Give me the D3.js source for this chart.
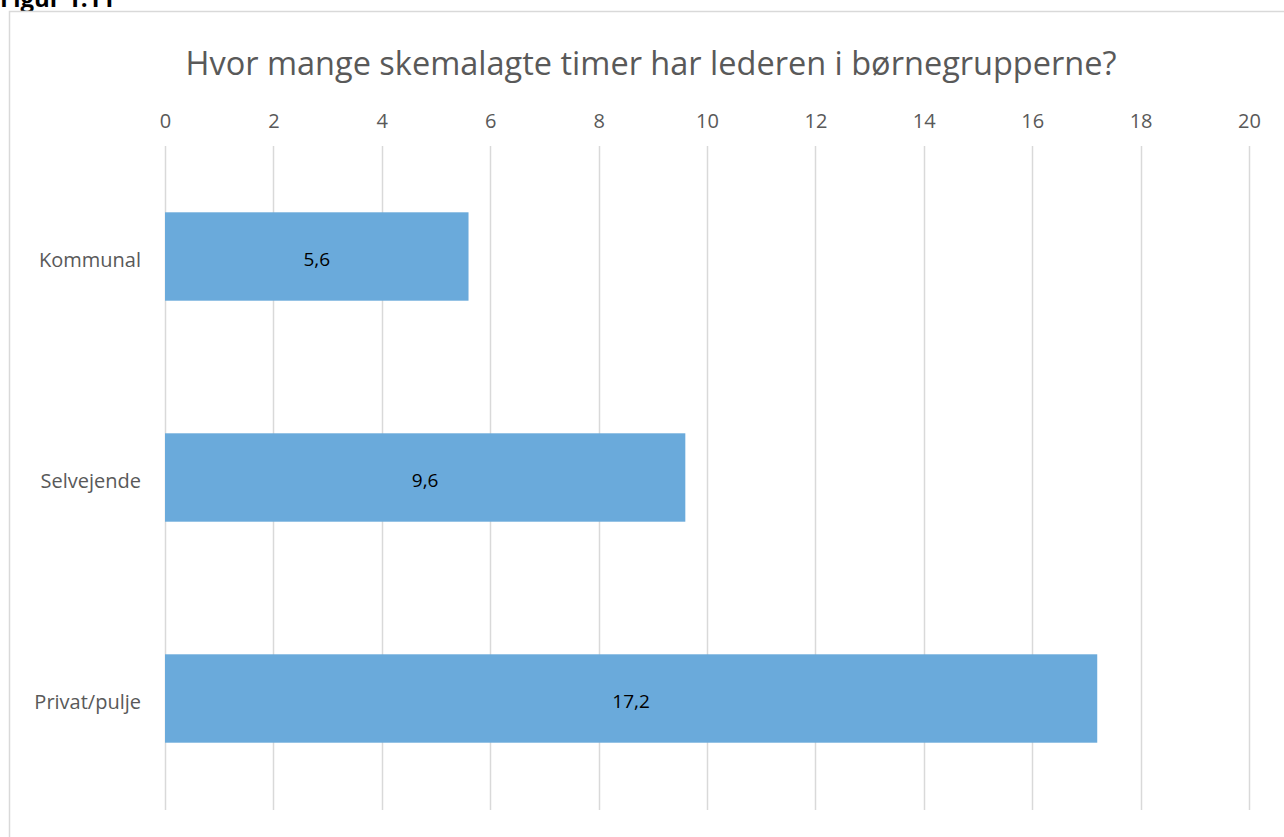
<!DOCTYPE html>
<html>
<head>
<meta charset="utf-8">
<script src="https://cdn.jsdelivr.net/npm/d3@7"></script>
<style>
  body { margin: 0; background: #fff; }
  text { font-family: "Open Sans", sans-serif; }
</style>
</head>
<body>
<script>
// data
var categories = ["Kommunal", "Selvejende", "Privat/pulje"];
var values = [5.6, 9.6, 17.2];
var valueLabels = ["5,6", "9,6", "17,2"];
var xTicks = [0, 2, 4, 6, 8, 10, 12, 14, 16, 18, 20];
var title = "Hvor mange skemalagte timer har lederen i børnegrupperne?";
var figLabel = "Figur 1.11";

var W = 1284, H = 837;

var svg = d3.select("body").append("svg")
    .attr("width", W)
    .attr("height", H);

// figure label, partly cut by the top of the page like in the source
svg.append("text")
    .attr("x", 0)
    .attr("y", 7)
    .attr("font-size", 24)
    .attr("font-weight", "bold")
    .attr("fill", "#000")
    .text(figLabel);

// chart frame
svg.append("rect")
    .attr("x", 9.5)
    .attr("y", 11.5)
    .attr("width", W)
    .attr("height", H)
    .attr("fill", "#fff")
    .attr("stroke", "#d9d9d9")
    .attr("stroke-width", 1.5);

// scales
var x = d3.scaleLinear().domain([0, 20]).range([165, 1249]);
var y = d3.scaleBand().domain(categories).range([146, 809])
    .paddingInner(0.6).paddingOuter(0.3);

// title
svg.append("text")
    .attr("x", 651)
    .attr("y", 75)
    .attr("text-anchor", "middle")
    .attr("font-size", 32.5)
    .attr("fill", "#595959")
    .text(title);

// gridlines
svg.append("g").selectAll("line")
    .data(xTicks)
    .join("line")
    .attr("x1", function(d) { return Math.round(x(d)) + 0.5; })
    .attr("x2", function(d) { return Math.round(x(d)) + 0.5; })
    .attr("y1", 146)
    .attr("y2", 810)
    .attr("stroke", "#d9d9d9")
    .attr("stroke-width", 1.5);

// top axis labels
var xAxis = svg.append("g")
    .attr("transform", "translate(0,128)")
    .call(d3.axisTop(x).tickValues(xTicks).tickSize(0).tickPadding(0)
      .tickFormat(function(d) { return d; }));
xAxis.select(".domain").remove();
xAxis.selectAll("text")
    .attr("font-size", 20)
    .attr("fill", "#595959")
    .attr("dy", 0);

// bars
svg.append("g").selectAll("rect")
    .data(values)
    .join("rect")
    .attr("x", x(0))
    .attr("y", function(d, i) { return y(categories[i]); })
    .attr("width", function(d) { return x(d) - x(0); })
    .attr("height", y.bandwidth())
    .attr("fill", "#6aaadb");

// value labels
svg.append("g").selectAll("text")
    .data(values)
    .join("text")
    .attr("x", function(d) { return (x(0) + x(d)) / 2; })
    .attr("y", function(d, i) { return y(categories[i]) + y.bandwidth() / 2; })
    .attr("dy", "0.5em")
    .attr("text-anchor", "middle")
    .attr("font-size", 19)
    .attr("fill", "#000")
    .text(function(d, i) { return valueLabels[i]; });

// category labels
var yAxis = svg.append("g")
    .attr("transform", "translate(141,0)")
    .call(d3.axisLeft(y).tickSize(0).tickPadding(0));
yAxis.select(".domain").remove();
yAxis.selectAll("text")
    .attr("font-size", 20)
    .attr("fill", "#595959")
    .attr("dy", "0.5em");
</script>
</body>
</html>
